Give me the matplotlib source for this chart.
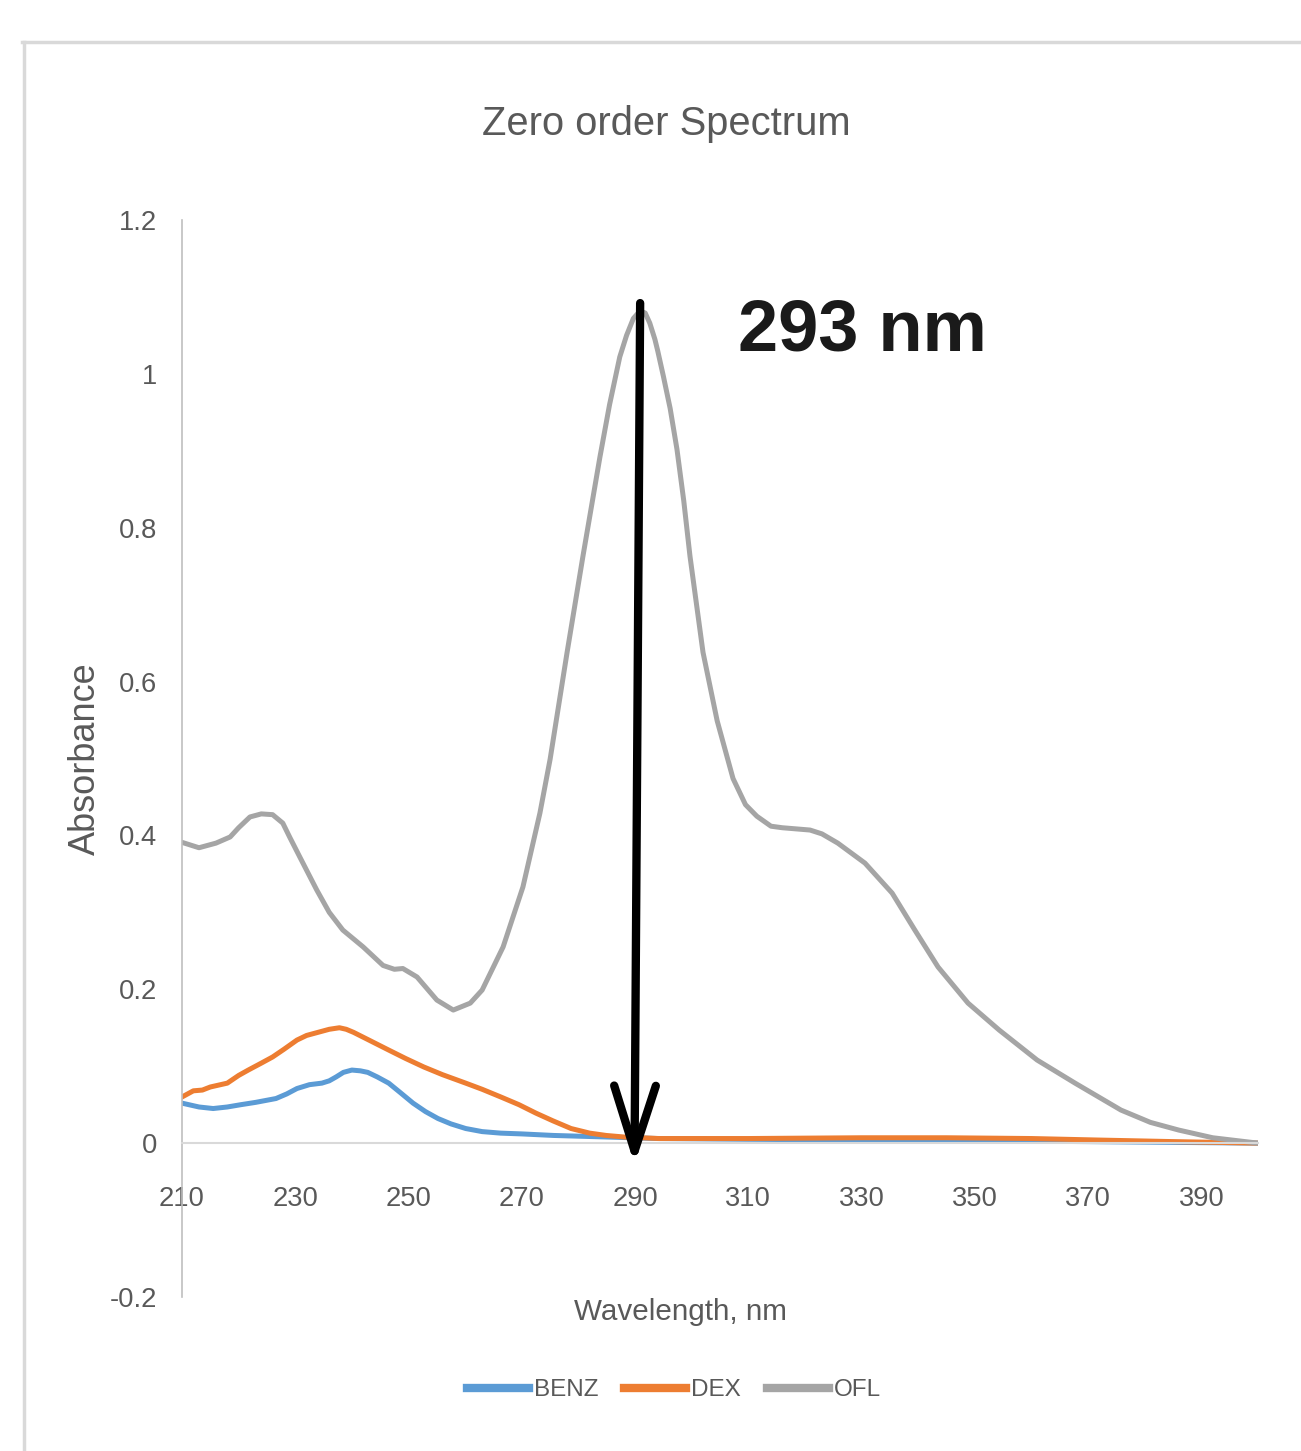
import matplotlib
matplotlib.use("Agg")
import matplotlib.pyplot as plt
from matplotlib.lines import Line2D

# data
wl_ofl = [210, 213, 216, 218.5, 220, 222, 224, 226, 227.8, 229, 230.8, 233.8, 236, 238.4,
          242, 245.5, 247.5, 249, 251.5, 255, 257.9, 260.9, 263, 266.7, 270.2, 273.2, 275,
          278, 280.8, 283.8, 285.5, 287.3, 288.5, 289.7, 290.9, 291.8, 292.6, 293.5, 294,
          295, 296.2, 297.4, 298.6, 299.7, 302, 304.5, 307.3, 309.5, 311.5, 314, 316,
          320.9, 323, 325.8, 330.6, 335.4, 339.4, 343.5, 348.8, 354.3, 361, 367.7, 375.8,
          381, 386, 392, 400]
abs_ofl = [0.391, 0.384, 0.390, 0.398, 0.410, 0.424, 0.428, 0.427, 0.416, 0.398, 0.372,
           0.329, 0.300, 0.277, 0.255, 0.231, 0.226, 0.227, 0.216, 0.186, 0.173, 0.182,
           0.199, 0.255, 0.333, 0.429, 0.499, 0.638, 0.763, 0.892, 0.960, 1.022, 1.050,
           1.072, 1.082, 1.079, 1.066, 1.045, 1.030, 0.997, 0.955, 0.902, 0.835, 0.763,
           0.638, 0.549, 0.474, 0.440, 0.425, 0.412, 0.410, 0.407, 0.402, 0.390, 0.364,
           0.325, 0.277, 0.229, 0.182, 0.147, 0.108, 0.078, 0.043, 0.027, 0.017, 0.007, 0.0]

wl_dex = [210, 212, 213.6, 215, 218, 220, 221.7, 224, 226, 228, 230.3, 232, 234, 236,
          237.8, 239, 240.3, 243, 246.5, 249.5, 252.7, 256, 260.1, 263, 266.3, 269.5,
          272.5, 275.5, 278.7, 282, 284.9, 288, 294.2, 310, 330, 345, 360, 372, 385, 400]
abs_dex = [0.060, 0.068, 0.069, 0.073, 0.078, 0.088, 0.095, 0.104, 0.112, 0.122, 0.134,
           0.140, 0.144, 0.148, 0.150, 0.148, 0.144, 0.134, 0.121, 0.110, 0.099, 0.089,
           0.078, 0.070, 0.060, 0.050, 0.039, 0.029, 0.019, 0.013, 0.010, 0.008, 0.006,
           0.006, 0.007, 0.007, 0.006, 0.004, 0.002, 0.0]

wl_benz = [210, 213, 215.5, 218, 220.4, 223, 226.6, 228.5, 230.3, 232.5, 234.7, 236,
           237.2, 238.5, 240, 241.5, 242.8, 244.5, 246.5, 248.5, 250.8, 253, 255.2, 257.5,
           260.1, 263, 266.3, 270, 275.6, 284.9, 294, 310, 330, 350, 370, 400]
abs_benz = [0.052, 0.047, 0.045, 0.047, 0.050, 0.053, 0.058, 0.064, 0.071, 0.076, 0.078,
            0.081, 0.086, 0.092, 0.095, 0.094, 0.092, 0.086, 0.078, 0.066, 0.052, 0.041,
            0.032, 0.025, 0.019, 0.015, 0.013, 0.012, 0.010, 0.008, 0.006, 0.005, 0.004,
            0.003, 0.002, 0.0]

series = ["BENZ", "DEX", "OFL"]
colors = ["#5b9bd5", "#ed7d31", "#a5a5a5"]
x_ticks = [210, 230, 250, 270, 290, 310, 330, 350, 370, 390]
y_ticks = [-0.2, 0, 0.2, 0.4, 0.6, 0.8, 1, 1.2]
y_ticklabels = ["-0.2", "0", "0.2", "0.4", "0.6", "0.8", "1", "1.2"]
peak_label = "293 nm"

plt.rcParams['font.family'] = ['Liberation Sans', 'DejaVu Sans']
grey = "#595959"

fig = plt.figure(figsize=(13.01, 14.51), dpi=100)
ax = fig.add_axes([182 / 1301, 1 - 1297 / 1451, 1076 / 1301, 1077 / 1451])

# outer chart frame (only top and left edges are in view)
fig.add_artist(Line2D([24 / 1301, 24 / 1301], [0, 1 - 42 / 1451], transform=fig.transFigure,
                      color="#d9d9d9", lw=2.5))
fig.add_artist(Line2D([22 / 1301, 1], [1 - 42 / 1451, 1 - 42 / 1451], transform=fig.transFigure,
                      color="#d9d9d9", lw=2.5))

ax.plot(wl_benz, abs_benz, color=colors[0], lw=3.6, label=series[0])
ax.plot(wl_dex, abs_dex, color=colors[1], lw=3.6, label=series[1])
ax.plot(wl_ofl, abs_ofl, color=colors[2], lw=3.6, label=series[2])

ax.set_xlim(210, 400)
ax.set_ylim(-0.2, 1.2)
for s in ["top", "right"]:
    ax.spines[s].set_visible(False)
ax.spines["bottom"].set_position(("data", 0))
ax.spines["bottom"].set_color("#d9d9d9")
ax.spines["bottom"].set_linewidth(1.5)
ax.spines["left"].set_color("#bfbfbf")
ax.spines["left"].set_linewidth(1.2)

ax.set_xticks(x_ticks)
ax.set_yticks(y_ticks)
ax.set_yticklabels(y_ticklabels)
ax.tick_params(axis="x", length=0, pad=31, labelsize=19.7, labelcolor=grey)
ax.tick_params(axis="y", length=0, pad=18, labelsize=19.7, labelcolor=grey)

ax.set_ylabel("Absorbance", fontsize=26, color=grey)
ax.yaxis.set_label_coords(-0.0735, 0.5)

fig.text(680 / 1301, 1 - 1312 / 1451, "Wavelength, nm", ha="center", va="center",
         fontsize=21.3, color=grey)
fig.text(666 / 1301, 1 - 124 / 1451, "Zero order Spectrum", ha="center", va="center",
         fontsize=28.7, color=grey)

# peak marker arrow
ax.annotate("", xy=(289.9, -0.028), xytext=(290.9, 1.092),
            arrowprops=dict(arrowstyle="->,head_length=47,head_width=15", lw=6, color="black",
                            mutation_scale=1, shrinkA=0, shrinkB=0))
ax.text(308.2, 1.031, peak_label, fontsize=52, fontweight="bold", color="#1a1a1a",
        va="baseline", ha="left")

leg = fig.legend(loc="center", bbox_to_anchor=(674 / 1301, 1 - 1390 / 1451), ncol=3,
                 frameon=False, handlelength=2.55, handletextpad=0.2, columnspacing=1.07,
                 fontsize=17.5)
for t in leg.get_texts():
    t.set_color(grey)
for h in leg.get_lines():
    h.set_linewidth(6)

fig.savefig("out.png", dpi=100)
